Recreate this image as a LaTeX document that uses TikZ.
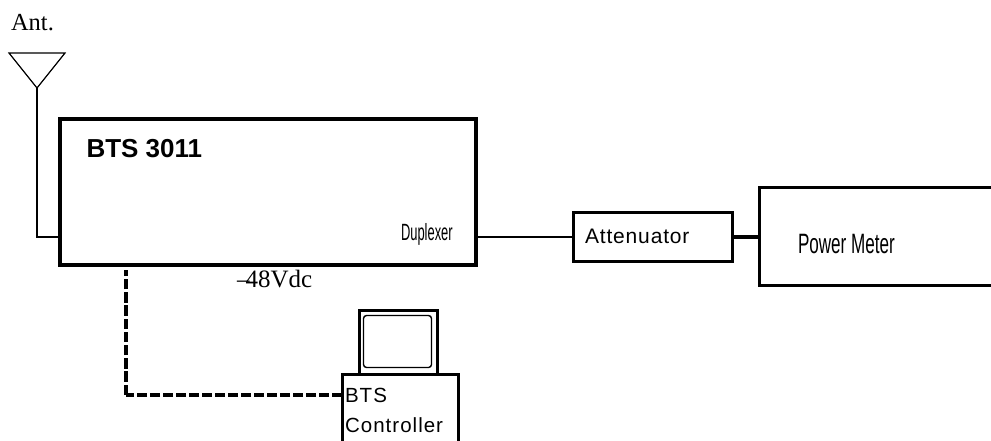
\documentclass[tikz,border=0pt]{standalone}
\usepackage{fontspec}
\setmainfont{Liberation Serif}
\setsansfont{Liberation Sans}
\newfontfamily\spaced[LetterSpace=4]{Liberation Sans}
\newfontfamily\spacedb[LetterSpace=5]{Liberation Sans}
\begin{document}
\begin{tikzpicture}[x=1pt,y=-1pt,
  box/.style={draw=black,rectangle,inner sep=0pt,outer sep=0pt,anchor=north west},
  lbl/.style={inner sep=0pt,outer sep=0pt,anchor=base west,text=black},
  conn/.style={draw=black,line width=1.4pt}]
\useasboundingbox (0,0) rectangle (991,440);
\clip (0,0) rectangle (991,440);
\fill[white] (0,0) rectangle (991,440);
% boxes
\node[box,line width=4.5pt,minimum width=416pt,minimum height=146pt] (bts) at (60,119) {};
\node[box,line width=3pt,minimum width=159pt,minimum height=49pt] (att) at (573.5,212) {};
\node[box,line width=3pt,minimum width=260pt,minimum height=98pt] (pm) at (759,187) {};
\node[box,line width=3pt,minimum width=78pt,minimum height=64pt] (mon) at (359,310) {};
\node[box,line width=1.4pt,rounded corners=3pt,minimum width=68pt,minimum height=52pt] (scr) at (363.5,315.5) {};
\node[box,line width=3pt,minimum width=116pt,minimum height=100pt] (ctl) at (342,374) {};
% antenna
\coordinate (apex) at (37,88);
\coordinate (antl) at (9,53);
\coordinate (antr) at (65,53);
\draw[line width=1.2pt] (antl) -- (antr) -- (apex) -- cycle;
% connector anchors on the boxes
\coordinate (btsin) at (bts.west |- 0,237);
\coordinate (btsout) at (bts.east |- 0,237);
\coordinate (attin) at (att.west |- 0,237);
\coordinate (attout) at (att.east |- 0,237);
\coordinate (pmin) at (pm.west |- 0,237);
\coordinate (ctlin) at (ctl.west |- 0,395);
\coordinate (dashtop) at (126,270);
\coordinate (dashcorner) at (126,395);
\draw[conn] (apex) |- (btsin);
\draw[conn] (btsout) -- (attin);
\draw[draw=black,line width=3.5pt] (attout) -- (pmin);
\draw[draw=black,line width=4.4pt,dash pattern=on 10pt off 3pt] (ctlin) -- (dashcorner);
\draw[draw=black,line width=3.4pt,dash pattern=on 10.5pt off 2.7pt] (dashcorner) -- (dashtop);
% labels
\node[lbl,font=\fontsize{24.5}{26}\selectfont] (antlabel) at (11,30) {Ant.};
\node[lbl,font=\sffamily\bfseries\fontsize{26}{28}\selectfont] (btslabel) at (86.5,157) {BTS 3011};
\node[lbl,font=\fontsize{25}{27}\selectfont] (vdc) at (237,287) {–\kern-4pt 48Vdc};
\node[lbl,font=\sffamily\fontsize{23.5}{25}\selectfont] (dup) at (401,240) {\scalebox{0.55}[1]{Duplexer}};
\node[lbl,font=\spaced\fontsize{21}{23}\selectfont] (attlabel) at (585,243) {Attenuator};
\node[lbl,font=\sffamily\fontsize{28}{30}\selectfont] (pmlabel) at (798,253) {\scalebox{0.61}[1]{Power Meter}};
\node[lbl,font=\spacedb\fontsize{20.5}{22}\selectfont] (ctl1) at (345,402) {BTS};
\node[lbl,font=\spacedb\fontsize{20.5}{22}\selectfont] (ctl2) at (345,432) {Controller};
\end{tikzpicture}
\end{document}
